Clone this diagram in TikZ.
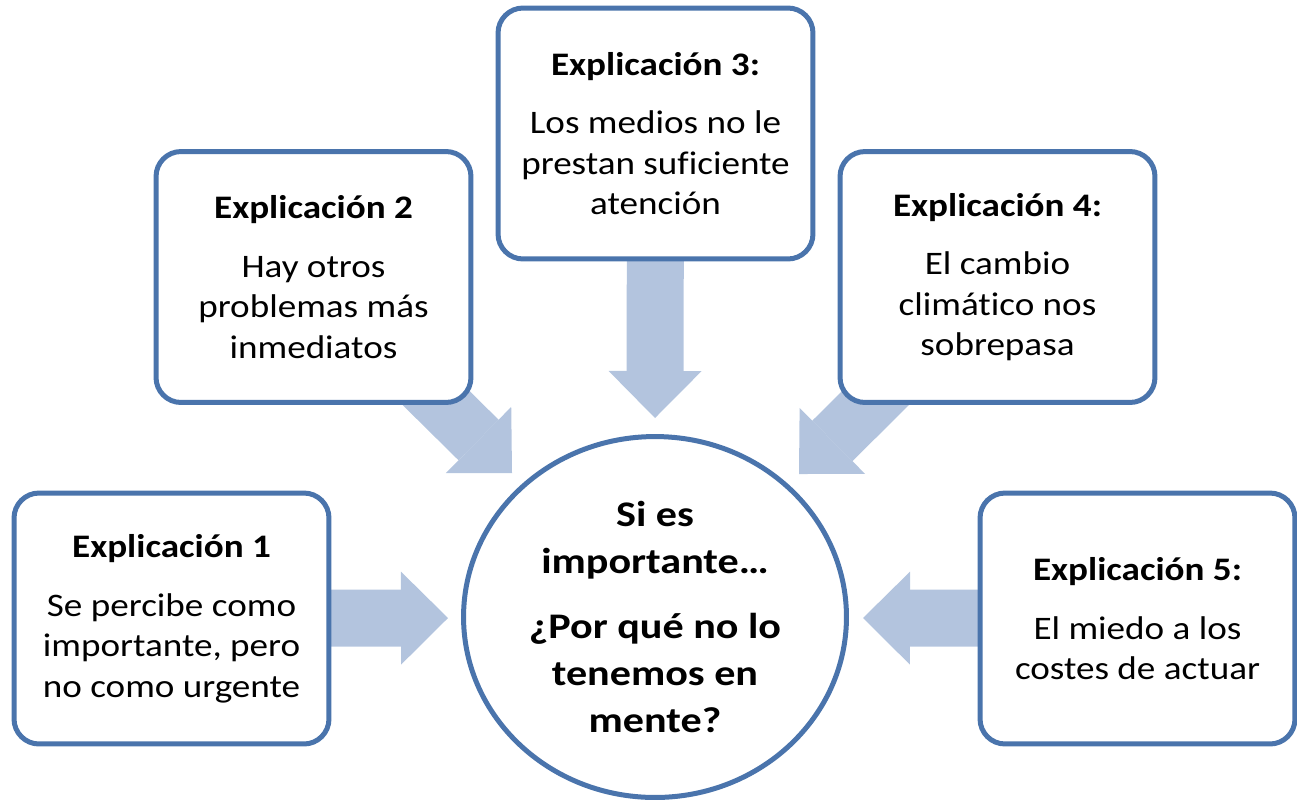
\documentclass[tikz,border=0pt]{standalone}
\usepackage{fontspec}
\setmainfont{Carlito}[Ligatures=NoCommon]
\newfontfamily\boxFont{Carlito}[Ligatures=NoCommon, FakeStretch=1.13]
\newfontfamily\questionFont{Carlito}[Ligatures=NoCommon, FakeStretch=1.17]
\usepackage{xcolor}
\usetikzlibrary{arrows.meta, shapes.geometric, backgrounds}
\definecolor{frameBlue}{HTML}{4A74AC}
\definecolor{arrowBlue}{HTML}{B3C4DE}
\tikzstyle{expBox} = [draw=frameBlue, line width=0.1cm, fill=white,
   rounded corners=0.5cm, minimum width=6.3cm, minimum height=5.02cm,
   inner sep=0pt, align=center, font=\boxFont\fontsize{18.7pt}{23pt}\selectfont]
\tikzstyle{questionEllipse} = [draw=frameBlue, line width=0.1cm, fill=white,
   ellipse, minimum width=7.66cm, minimum height=7.22cm, inner sep=0pt,
   align=center, font=\questionFont\fontsize{20.5pt}{26.7pt}\selectfont\bfseries]
\tikzstyle{fatArrow} = [draw=arrowBlue, line width=1.14cm,
   -{Triangle[length=0.94cm, width=1.86cm, line width=0pt]}]

\begin{document}
\begin{tikzpicture}[x=0.02cm, y=-0.02cm]
  \useasboundingbox (0,0) rectangle (1297,802);

  \node[questionEllipse] (q) at (655,617) {Si es\\ importante…\\[0.36cm] ¿Por qué no lo\\ tenemos en\\ mente?};

  \node[expBox] (e1) at (171.5,618.5) {\textbf{Explicación 1}\\[0.37cm] Se percibe como\\ importante, pero\\ no como urgente};
  \node[expBox] (e2) at (313.5,277) {\textbf{Explicación 2}\\[0.37cm] Hay otros\\ problemas más\\ inmediatos};
  \node[expBox] (e3) at (655.5,133.5) {\textbf{Explicación 3:}\\[0.37cm] Los medios no le\\ prestan suficiente\\ atención};
  \node[expBox] (e4) at (997.5,277) {\textbf{Explicación 4:}\\[0.37cm] El cambio\\ climático nos\\ sobrepasa};
  \node[expBox] (e5) at (1137.5,618.5) {\textbf{Explicación 5:}\\[0.37cm] El miedo a los\\ costes de actuar};

  % arrow tips, just short of the ellipse
  \coordinate (t1) at (448,618);
  \coordinate (t2) at (512,473);
  \coordinate (t3) at (655,418);
  \coordinate (t4) at (799,474);
  \coordinate (t5) at (863,618);

  % arrows start in the box centres, the white boxes hide the rest
  \begin{scope}[on background layer]
    \draw[fatArrow] (e1.center) -- (t1);
    \draw[fatArrow] (e2.center) -- (t2);
    \draw[fatArrow] (e3.center) -- (t3);
    \draw[fatArrow] (e4.center) -- (t4);
    \draw[fatArrow] (e5.center) -- (t5);
  \end{scope}
\end{tikzpicture}
\end{document}
